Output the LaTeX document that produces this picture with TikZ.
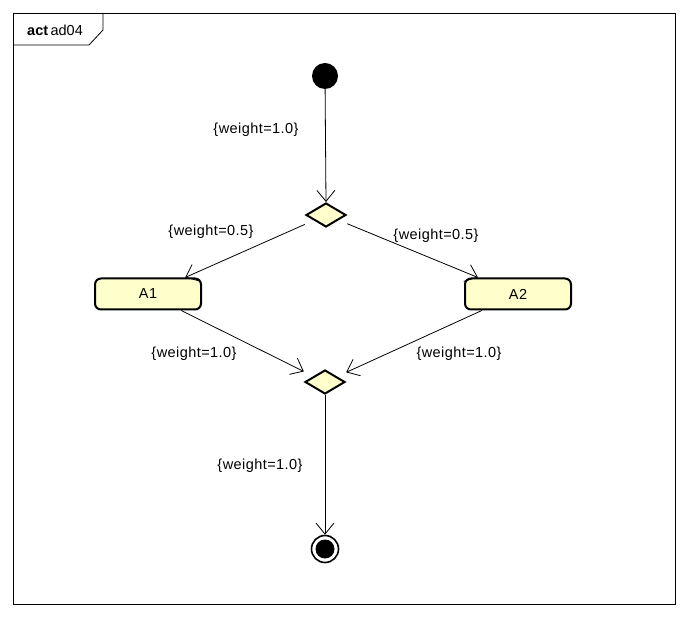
\documentclass[tikz,border=0pt]{standalone}
\usepackage{fontspec}
\setmainfont{Liberation Sans}
\usetikzlibrary{arrows.meta,shapes.geometric}
\definecolor{nodefill}{HTML}{FFFFCC}
\begin{document}
\begin{tikzpicture}[x=1pt,y=-1pt,
  txt/.style={font=\fontsize{14.5}{17}\selectfont\addfontfeature{LetterSpace=3}},
  lbl/.style={txt, inner sep=0pt},
  actbox/.style={draw, line width=2pt, fill=nodefill, rounded corners=6pt, minimum width=106pt, minimum height=31pt, inner sep=0pt, txt},
  decide/.style={draw, line width=2pt, fill=nodefill, diamond, minimum width=40pt, minimum height=24pt, inner sep=0pt, aspect=1.6},
  bbox/.style={rectangle, minimum width=42pt, minimum height=26pt, inner sep=0pt},
  flow/.style={line width=0.8pt, -{Straight Barb[length=11pt,width=18pt,line width=0.8pt]}},
]
\useasboundingbox (0,0) rectangle (688,617);
% frame
\draw[line width=0.8pt] (13,13) rectangle (675,604);
\draw[line width=0.8pt] (13,45) -- (89,45) -- (103,30) -- (103,13);
\node[anchor=west, inner sep=0pt, font=\fontsize{14.5}{17}\selectfont] (title) at (27,30) {\textbf{act}\,ad04};

\node[circle, fill=black, minimum size=26pt, inner sep=0pt] (start) at (325,76) {};
\node[decide] (d1) at (326,215) {};
\node[bbox] (d1b) at (326,215) {};
\node[actbox] (a1) at (148,294) {A1};
\node[actbox] (a2) at (518,294) {A2};
\node[decide] (d2) at (325,382) {};
\node[bbox] (d2b) at (325,382) {};
\node[circle, draw, line width=1.6pt, minimum size=27pt, inner sep=0pt] (final) at (325,549) {};
\node[circle, fill=black, minimum size=19pt, inner sep=0pt] (finalin) at (325,549) {};

\draw[flow] (start) -- (d1.north);
\draw[flow] (d1b) -- (a1);
\draw[flow] (d1b) -- (a2);
\draw[flow] (a1) -- (d2b);
\draw[flow] (a2) -- (d2b);
\draw[flow] (d2.south) -- (final.north);

\node[lbl] (l1) at (256,130) {\{weight=1.0\}};
\node[lbl] (l2) at (211,232) {\{weight=0.5\}};
\node[lbl] (l3) at (436,236) {\{weight=0.5\}};
\node[lbl] (l4) at (194,354) {\{weight=1.0\}};
\node[lbl] (l5) at (459,354) {\{weight=1.0\}};
\node[lbl] (l6) at (260,466) {\{weight=1.0\}};
\end{tikzpicture}
\end{document}
